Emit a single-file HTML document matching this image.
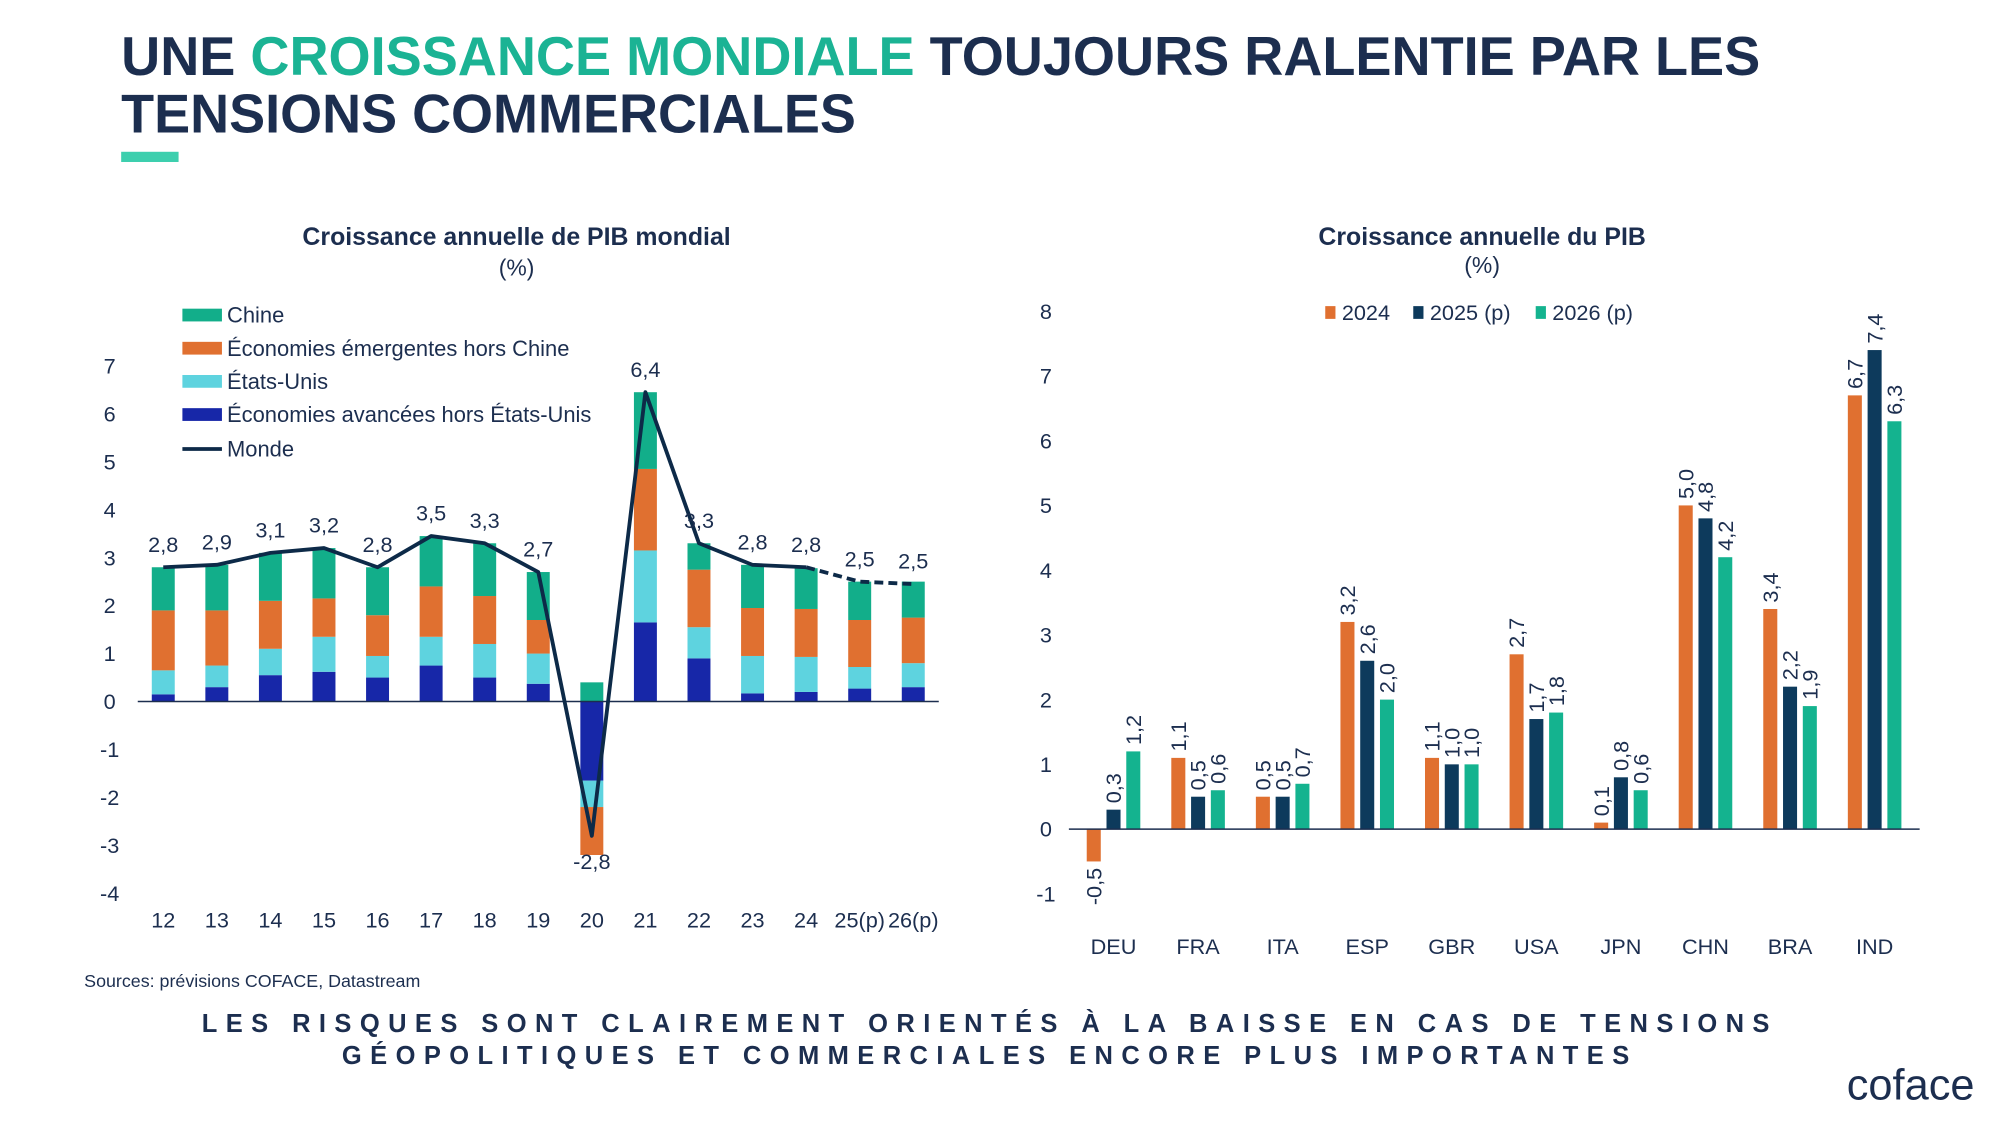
<!DOCTYPE html>
<html><head><meta charset="utf-8"><style>
html,body{margin:0;padding:0;background:#fff;}
svg{display:block;font-family:"Liberation Sans",sans-serif;}
</style></head><body>
<svg id="root" width="2000" height="1125" viewBox="0 0 1568 882" xmlns="http://www.w3.org/2000/svg">
<text x="95" y="59" font-size="43" font-weight="bold" fill="#1c2e4f" textLength="1285" lengthAdjust="spacingAndGlyphs">UNE <tspan fill="#1bb394">CROISSANCE MONDIALE</tspan> TOUJOURS RALENTIE PAR LES</text>
<text x="95" y="104" font-size="43" font-weight="bold" fill="#1c2e4f" textLength="576" lengthAdjust="spacingAndGlyphs">TENSIONS COMMERCIALES</text>
<rect x="95" y="119" width="45" height="8" fill="#3dcfae"/>
<text x="405" y="192" font-size="19.5" font-weight="bold" fill="#1c2e4f" text-anchor="middle">Croissance annuelle de PIB mondial</text>
<text x="405" y="216" font-size="18" fill="#1c2e4f" text-anchor="middle">(%)</text>
<text x="1162" y="192" font-size="19.5" font-weight="bold" fill="#1c2e4f" text-anchor="middle">Croissance annuelle du PIB</text>
<text x="1162" y="214" font-size="18" fill="#1c2e4f" text-anchor="middle">(%)</text>
<g id="left"></g>
<g id="right"></g>
<text x="66" y="774" font-size="14" fill="#1c2e4f">Sources: prévisions COFACE, Datastream</text>
<text x="776" y="809" font-size="20" font-weight="bold" fill="#1c2e4f" text-anchor="middle" letter-spacing="6.6">LES RISQUES SONT CLAIREMENT ORIENTÉS À LA BAISSE EN CAS DE TENSIONS</text>
<text x="776" y="834" font-size="20" font-weight="bold" fill="#1c2e4f" text-anchor="middle" letter-spacing="6.6">GÉOPOLITIQUES ET COMMERCIALES ENCORE PLUS IMPORTANTES</text>
<text x="1548" y="862" font-size="34" fill="#1c2e4f" text-anchor="end">coface</text>
</svg>
<script>
const NS="http://www.w3.org/2000/svg";
// Left chart data
const years=["12","13","14","15","16","17","18","19","20","21","22","23","24","25(p)","26(p)"];
const advanced=[0.15,0.3,0.55,0.62,0.5,0.75,0.5,0.37,-1.65,1.65,0.9,0.17,0.2,0.27,0.3];
const usa=[0.5,0.45,0.55,0.73,0.45,0.6,0.7,0.63,-0.55,1.5,0.65,0.78,0.73,0.45,0.5];
const emerging=[1.25,1.15,1.0,0.8,0.85,1.05,1.0,0.7,-1.0,1.7,1.2,1.0,1.0,0.98,0.95];
const china=[0.9,0.95,1.0,1.05,1.0,1.05,1.1,1.0,0.4,1.6,0.55,0.9,0.85,0.8,0.75];
const world=[2.8,2.85,3.1,3.2,2.8,3.45,3.3,2.7,-2.8,6.45,3.3,2.85,2.8,2.5,2.45];
const worldLabels=["2,8","2,9","3,1","3,2","2,8","3,5","3,3","2,7","-2,8","6,4","3,3","2,8","2,8","2,5","2,5"];
const leftTicks=[-4,-3,-2,-1,0,1,2,3,4,5,6,7];
// Right chart data
const countries=["DEU","FRA","ITA","ESP","GBR","USA","JPN","CHN","BRA","IND"];
const g2024=[-0.5,1.1,0.5,3.2,1.1,2.7,0.1,5.0,3.4,6.7];
const g2025=[0.3,0.5,0.5,2.6,1.0,1.7,0.8,4.8,2.2,7.4];
const g2026=[1.2,0.6,0.7,2.0,1.0,1.8,0.6,4.2,1.9,6.3];
const rightTicks=[-1,0,1,2,3,4,5,6,7,8];

function el(tag,attrs,parent,text){const e=document.createElementNS(NS,tag);for(const k in attrs)e.setAttribute(k,attrs[k]);if(text!==undefined)e.textContent=text;parent.appendChild(e);return e;}
const fmt=v=>v.toFixed(1).replace('.',',');

// LEFT
const L=document.getElementById('left');
const ly=v=>550-v*37.6;
const lx=i=>128+i*42;
leftTicks.forEach(t=>{const e=el('text',{x:86,y:ly(t)+6,'font-size':17,fill:'#1c2e4f','text-anchor':'middle'},L,String(t));

});
const cols={adv:'#1727a8',us:'#5ed3df',em:'#e07030',cn:'#12ae8a'};
years.forEach((y,i)=>{
  let pos=0,neg=0;
  [[advanced,cols.adv,'advanced'],[usa,cols.us,'usa'],[emerging,cols.em,'emerging'],[china,cols.cn,'china']].forEach(([arr,c,n])=>{
    const v=arr[i];let y0,y1;
    if(v>=0){y0=pos;y1=pos+v;pos=y1;}else{y0=neg;y1=neg+v;neg=y1;}
    const r=el('rect',{x:lx(i)-9,y:Math.min(ly(y0),ly(y1)),width:18,height:Math.abs(ly(y1)-ly(y0)),fill:c},L);
    
    
  });
  const tx=el('text',{x:lx(i),y:727,'font-size':17,fill:'#1c2e4f','text-anchor':'middle'},L,y);
  
  
});
const z=el('line',{x1:108,x2:736,y1:550,y2:550,stroke:'#1c2e4f','stroke-width':1.2},L);


let d1='',d2='';
world.forEach((v,i)=>{if(i<=12)d1+=(i?'L':'M')+lx(i)+','+ly(v);if(i>=12)d2+=(i>12?'L':'M')+lx(i)+','+ly(v);});
const p1=el('path',{d:d1,fill:'none',stroke:'#0d2a48','stroke-width':3,'stroke-linejoin':'round'},L);


const p2=el('path',{d:d2,fill:'none',stroke:'#0d2a48','stroke-width':3,'stroke-dasharray':'7,4'},L);


world.forEach((v,i)=>{const yy=v<0?ly(v)+26:ly(v)-12;
  const t=el('text',{x:lx(i),y:yy,'font-size':17,fill:'#1c2e4f','text-anchor':'middle'},L,worldLabels[i]);
  
  });
const legendItems=[["Chine",cols.cn],["Économies émergentes hors Chine",cols.em],["États-Unis",cols.us],["Économies avancées hors États-Unis",cols.adv]];
legendItems.forEach(([n,c],k)=>{const yy=247+k*26;
  const r=el('rect',{x:143,y:yy-5,width:31,height:10,fill:c},L);
  
  
  const t=el('text',{x:178,y:yy+6,'font-size':17.2,fill:'#1c2e4f'},L,n);
  
  });
const lm=el('line',{x1:143,x2:174,y1:352,y2:352,stroke:'#0d2a48','stroke-width':3},L);


const lmt=el('text',{x:178,y:358,'font-size':17.2,fill:'#1c2e4f'},L,'Monde');



// RIGHT
const R=document.getElementById('right');
const ry=v=>650-v*50.75;
const rx=i=>873+i*66.3;
rightTicks.forEach(t=>{const e=el('text',{x:820,y:ry(t)+6,'font-size':17,fill:'#1c2e4f','text-anchor':'middle'},R,String(t));

});
const series=[[g2024,'#e07030','2024',-15.5],[g2025,'#0d3a5c','2025',0],[g2026,'#14b38f','2026',15.5]];
countries.forEach((c,i)=>{
  series.forEach(([arr,col,n,off])=>{
    const v=arr[i];const cx=rx(i)+off;
    const r=el('rect',{x:cx-5.5,y:Math.min(ry(0),ry(v)),width:11,height:Math.abs(ry(v)-ry(0)),fill:col},R);
    
    
    let tx,anchor;
    if(v>=0){tx=ry(v)-5;anchor='start';}else{tx=ry(v)+5;anchor='end';}
    const t=el('text',{x:0,y:0,'font-size':17,fill:'#1c2e4f','text-anchor':anchor,transform:`translate(${cx+6},${tx}) rotate(-90)`},R,fmt(v));
    
    
  });
  const t=el('text',{x:rx(i),y:748,'font-size':17,fill:'#1c2e4f','text-anchor':'middle'},R,c);
  
  
});
const z2=el('line',{x1:838,x2:1505,y1:650,y2:650,stroke:'#1c2e4f','stroke-width':1.2},R);


const rl=[["2024",'#e07030',1039],["2025 (p)",'#0d3a5c',1108],["2026 (p)",'#14b38f',1204]];
rl.forEach(([n,c,x],k)=>{
  const r=el('rect',{x:x,y:240,width:8,height:10,fill:c},R);
  
  
  const t=el('text',{x:x+13,y:251,'font-size':17,fill:'#1c2e4f'},R,n);
  
  
});
</script>
</body></html>
